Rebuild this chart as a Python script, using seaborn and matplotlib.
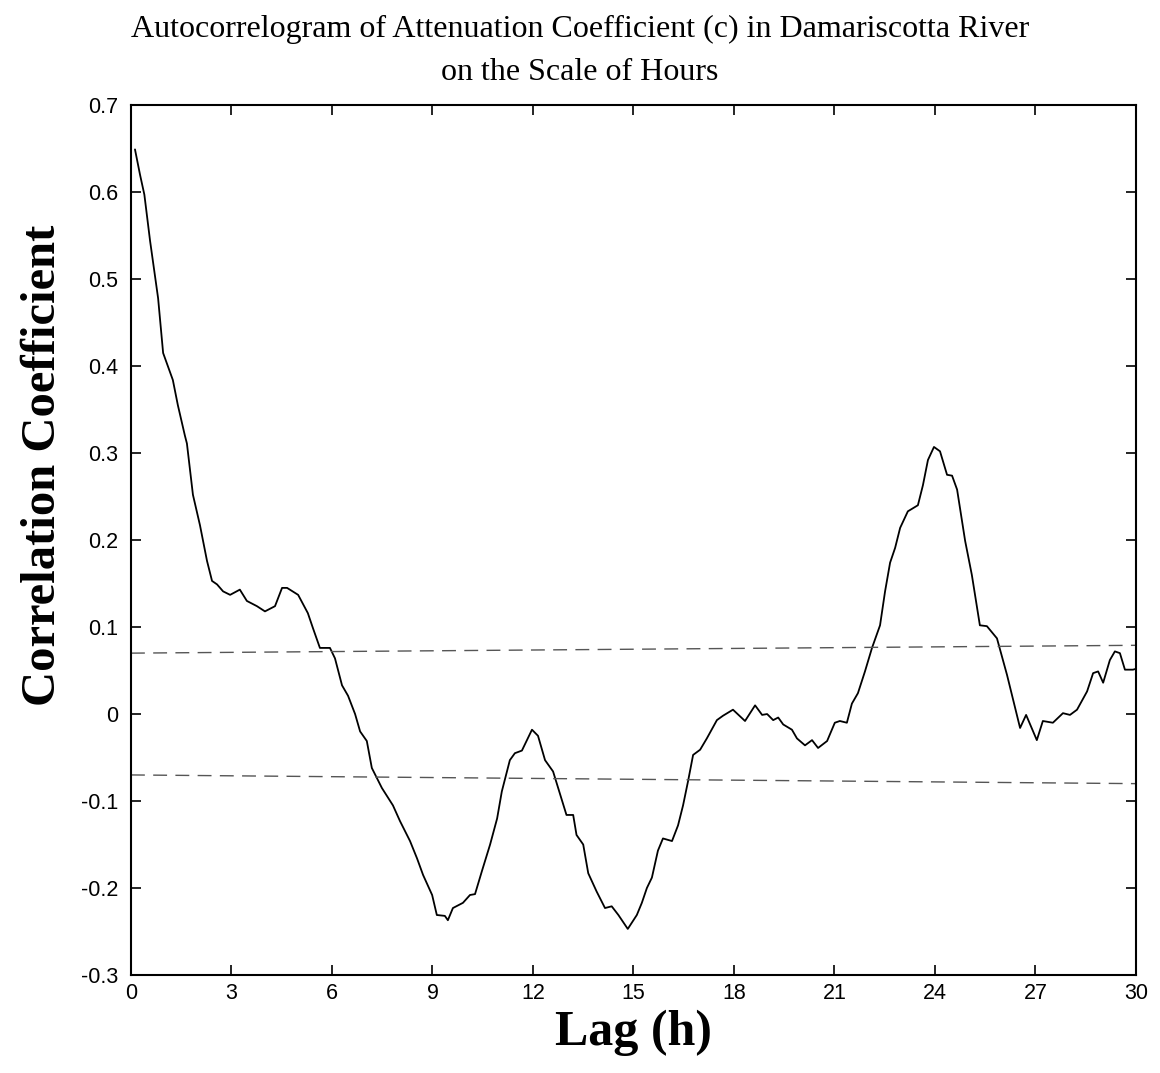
import matplotlib
matplotlib.use("Agg")
import matplotlib.pyplot as plt
import matplotlib.ticker as mticker
import numpy as np
import pandas as pd
import seaborn as sns

# Sample autocorrelation of c versus lag (hours)
lag_h = [0.12, 0.27, 0.40, 0.57, 0.81, 0.96, 1.25, 1.40, 1.61, 1.67, 1.85, 2.06, 2.27,
         2.42, 2.57, 2.75, 2.96, 3.25, 3.46, 3.76, 4.00, 4.30, 4.51, 4.66, 4.99, 5.28,
         5.43, 5.64, 5.94, 6.09, 6.30, 6.48, 6.69, 6.84, 7.04, 7.19, 7.49, 7.82, 8.03,
         8.33, 8.54, 8.72, 8.99, 9.13, 9.37, 9.46, 9.61, 9.91, 10.12, 10.27, 10.48,
         10.72, 10.93, 11.07, 11.31, 11.46, 11.67, 11.97, 12.15, 12.36, 12.60, 13.00,
         13.20, 13.30, 13.50, 13.65, 13.90, 14.15, 14.35, 14.55, 14.83, 15.10, 15.25,
         15.40, 15.55, 15.73, 15.88, 16.15, 16.33, 16.48, 16.63, 16.78, 16.99, 17.19,
         17.49, 17.67, 17.97, 18.33, 18.63, 18.84, 18.99, 19.17, 19.32, 19.47, 19.73,
         19.88, 20.12, 20.33, 20.51, 20.78, 21.01, 21.16, 21.37, 21.52, 21.70, 21.91,
         22.12, 22.36, 22.51, 22.66, 22.81, 22.96, 23.19, 23.49, 23.64, 23.79, 23.97,
         24.15, 24.36, 24.51, 24.66, 24.90, 25.10, 25.34, 25.55, 25.85, 26.15, 26.54,
         26.72, 27.04, 27.22, 27.52, 27.82, 28.03, 28.24, 28.54, 28.72, 28.87, 29.02,
         29.22, 29.37, 29.52, 29.67, 29.91, 30.00]
corr = [0.649, 0.620, 0.597, 0.544, 0.478, 0.415, 0.384, 0.355, 0.320, 0.311, 0.252,
        0.217, 0.176, 0.153, 0.149, 0.141, 0.137, 0.143, 0.130, 0.124, 0.118, 0.124,
        0.145, 0.145, 0.137, 0.116, 0.099, 0.076, 0.076, 0.064, 0.033, 0.021, 0.000,
        -0.020, -0.031, -0.062, -0.085, -0.105, -0.123, -0.146, -0.166, -0.185, -0.208,
        -0.231, -0.232, -0.237, -0.223, -0.217, -0.208, -0.207, -0.180, -0.150, -0.120,
        -0.089, -0.053, -0.045, -0.042, -0.018, -0.025, -0.053, -0.066, -0.116, -0.116,
        -0.139, -0.150, -0.183, -0.204, -0.223, -0.221, -0.231, -0.247, -0.231, -0.217,
        -0.200, -0.188, -0.157, -0.143, -0.146, -0.128, -0.105, -0.077, -0.047, -0.041,
        -0.028, -0.007, -0.002, 0.005, -0.008, 0.010, -0.001, 0.000, -0.007, -0.004,
        -0.012, -0.018, -0.028, -0.036, -0.030, -0.039, -0.031, -0.010, -0.008, -0.010,
        0.012, 0.024, 0.049, 0.076, 0.102, 0.141, 0.174, 0.191, 0.214, 0.233, 0.240,
        0.263, 0.292, 0.307, 0.302, 0.275, 0.274, 0.258, 0.199, 0.160, 0.102, 0.101,
        0.087, 0.045, -0.016, -0.001, -0.030, -0.008, -0.010, 0.001, -0.001, 0.005,
        0.026, 0.047, 0.049, 0.036, 0.062, 0.072, 0.070, 0.051, 0.051, 0.052]

# Significance bounds at the two ends of the lag range
bound_lag = [0, 30]
upper_bound = [0.070, 0.079]
lower_bound = [-0.070, -0.080]

x_ticks = [0, 3, 6, 9, 12, 15, 18, 21, 24, 27, 30]
y_ticks = [-0.3, -0.2, -0.1, 0.0, 0.1, 0.2, 0.3, 0.4, 0.5, 0.6, 0.7]

sns.set_style("ticks")
plt.rcParams["font.family"] = ["Liberation Sans", "DejaVu Sans"]
plt.rcParams["text.color"] = "black"
plt.rcParams["axes.labelcolor"] = "black"

fig = plt.figure(figsize=(11.6, 10.73), dpi=100)
ax = fig.add_axes([0.1129, 0.0913, 0.8664, 0.8108])

acf = pd.DataFrame({"lag": lag_h, "r": corr})
sns.lineplot(data=acf, x="lag", y="r", ax=ax, color="black", linewidth=1.3,
             estimator=None, sort=False)
for yb in (upper_bound, lower_bound):
    sns.lineplot(x=bound_lag, y=yb, ax=ax, color="#555555", linewidth=1.0,
                 linestyle=(0, (10, 6)), estimator=None)

ax.set_xlim(0, 30)
ax.set_ylim(-0.3, 0.7)
ax.set_xticks(x_ticks)
ax.set_yticks(y_ticks)
ax.yaxis.set_major_formatter(mticker.FuncFormatter(
    lambda v, p: ("%g" % round(v, 2))))
ax.tick_params(direction="in", length=7, width=1.2, top=True, right=True,
               labelsize=15.5, colors="black", pad=6)
ax.tick_params(axis="y", pad=9)
for s in ax.spines.values():
    s.set_linewidth(1.5)
    s.set_color("black")

ax.set_xlabel("Lag (h)", fontsize=36, fontweight="bold",
              family=["Liberation Serif"], labelpad=4)
ax.set_ylabel("Correlation Coefficient", fontsize=35, fontweight="bold",
              family=["Liberation Serif"])
ax.yaxis.set_label_coords(-0.066, 0.586)
fig.text(0.5, 0.973, "Autocorrelogram of Attenuation Coefficient (c) in Damariscotta River",
         ha="center", va="center", fontsize=23, family=["Liberation Serif"])
fig.text(0.5, 0.932, "on the Scale of Hours",
         ha="center", va="center", fontsize=23, family=["Liberation Serif"])

fig.savefig("out.png", dpi=100, facecolor="white")
